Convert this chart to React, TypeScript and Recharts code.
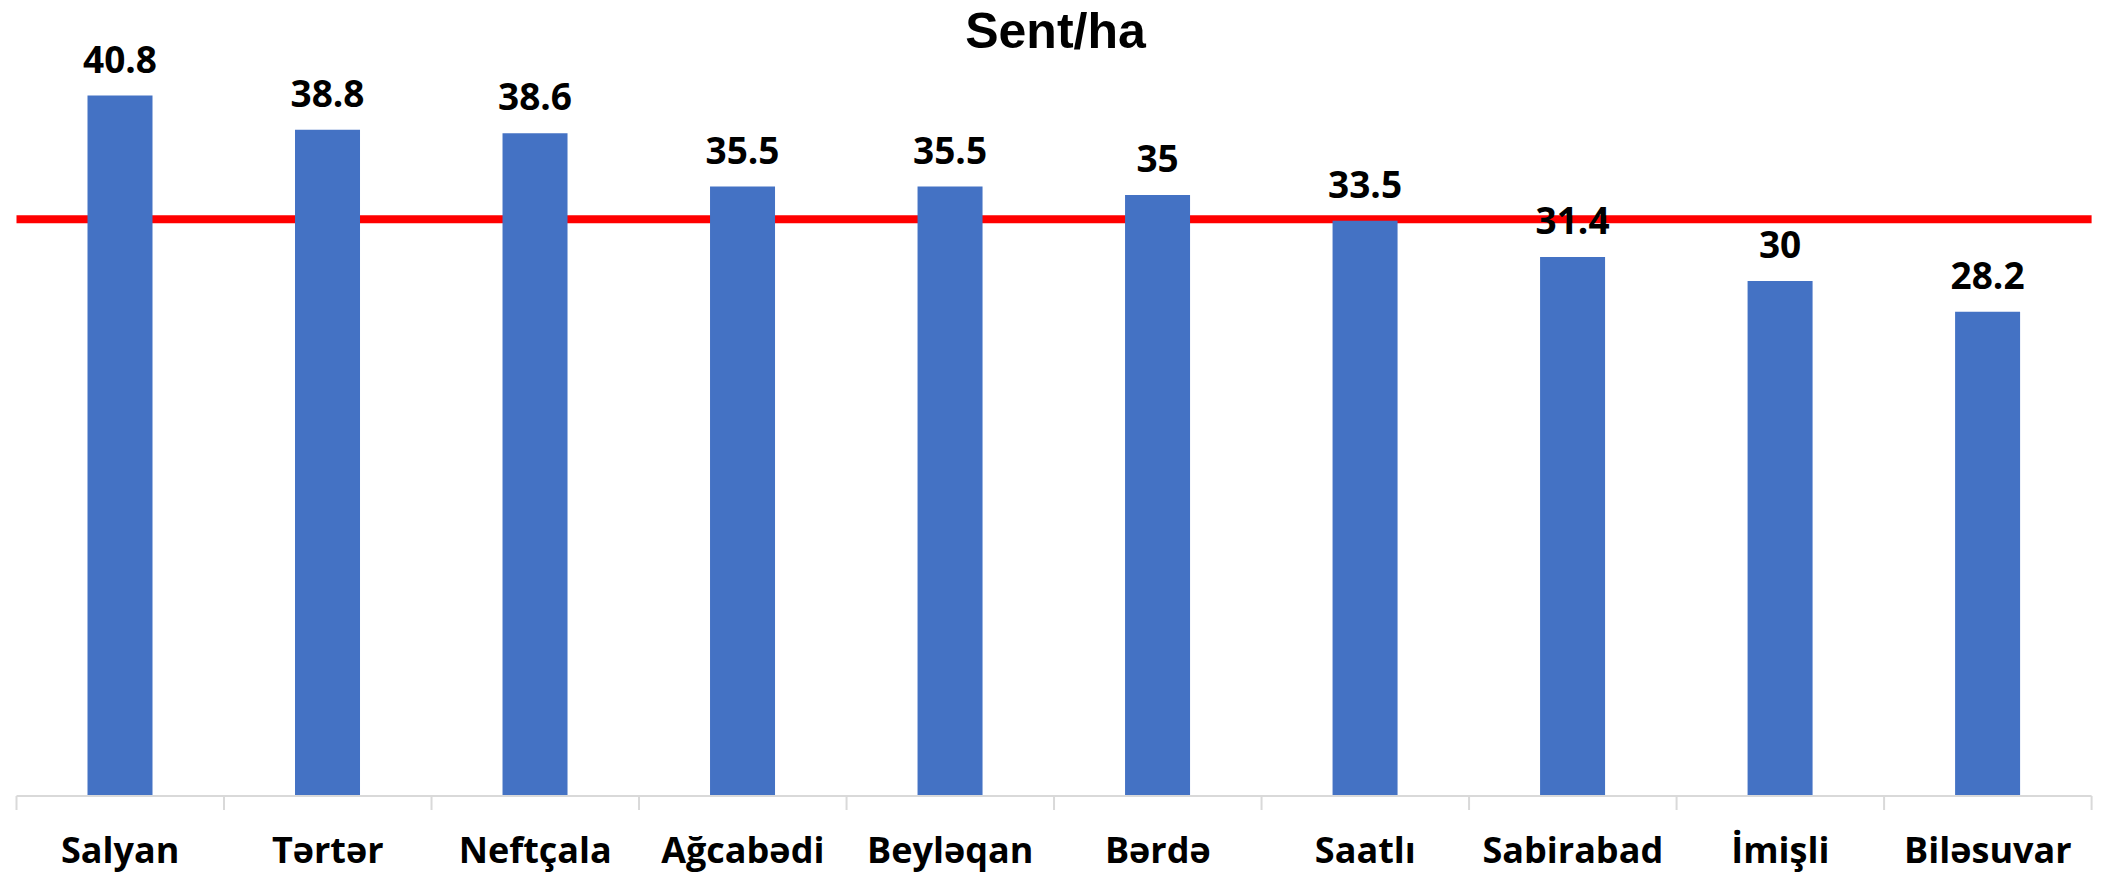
import React from 'react';
import { BarChart, Bar, XAxis, YAxis, ReferenceLine, LabelList } from 'recharts';

const categories = ['Salyan', 'Tərtər', 'Neftçala', 'Ağcabədi', 'Beyləqan', 'Bərdə', 'Saatlı', 'Sabirabad', 'İmişli', 'Biləsuvar'];
const values = [40.8, 38.8, 38.6, 35.5, 35.5, 35, 33.5, 31.4, 30, 28.2];
const valueLabels = ['40.8', '38.8', '38.6', '35.5', '35.5', '35', '33.5', '31.4', '30', '28.2'];
const referenceValue = 33.6;
const title = 'Sent/ha';

const data = categories.map((c, i) => ({ name: c, value: values[i], label: valueLabels[i] }));

const W = 2111;
const H = 876;
const margin = { top: 23.4, right: 19.4, left: 16.5, bottom: 20 };
const X_AXIS_HEIGHT = 60;
const plotWidth = W - margin.left - margin.right;

const CategoryTick = (props: any) => {
  const { x, y, payload, index, visibleTicksCount } = props;
  const n = visibleTicksCount || categories.length;
  const half = plotWidth / n / 2;
  const isLast = index === n - 1;
  return (
    <g>
      <line x1={x - half} x2={x - half} y1={y} y2={y + 14} stroke="#d9d9d9" strokeWidth={2} />
      {isLast && <line x1={x + half} x2={x + half} y1={y} y2={y + 14} stroke="#d9d9d9" strokeWidth={2} />}
      <text x={x} y={y + 67} textAnchor="middle" fontFamily="'Open Sans'" fontWeight={700} fontSize={36} fill="#000">
        {payload.value}
      </text>
    </g>
  );
};

const ValueLabel = (props: any) => {
  const { x, y, width, value } = props;
  return (
    <text x={Number(x) + Number(width) / 2} y={Number(y) - 23} textAnchor="middle" fontFamily="'Open Sans'" fontWeight={700} fontSize={37} fill="#000">
      {value}
    </text>
  );
};

export default function App() {
  return (
    <div style={{ position: 'absolute', left: 0, top: 0, width: W, height: H, background: '#fff' }}>
      <svg width={W} height={60} style={{ position: 'absolute', left: 0, top: 0 }}>
        <text x={W / 2} y={48} textAnchor="middle" fontFamily="'Liberation Sans', Arial" fontWeight={700} fontSize={50} fill="#000">
          {title}
        </text>
      </svg>
      <BarChart width={W} height={H} data={data} margin={margin} style={{ position: 'absolute', left: 0, top: 0 }}>
        <XAxis
          dataKey="name"
          height={X_AXIS_HEIGHT}
          tickLine={false}
          tickSize={0}
          tickMargin={0}
          axisLine={{ stroke: '#d9d9d9', strokeWidth: 2 }}
          tick={<CategoryTick />}
          interval={0}
        />
        <YAxis hide domain={[0, 45]} />
        <ReferenceLine y={referenceValue} stroke="#ff0000" strokeWidth={8} zIndex={0} ifOverflow="extendDomain" />
        <Bar dataKey="value" fill="#4472c4" barSize={65} isAnimationActive={false}>
          <LabelList dataKey="label" content={<ValueLabel />} />
        </Bar>
      </BarChart>
    </div>
  );
}
